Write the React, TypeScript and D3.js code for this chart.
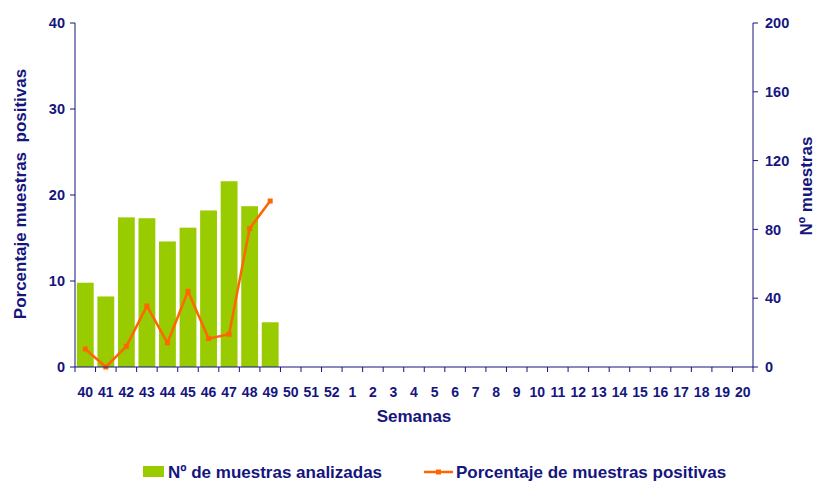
import React from "react";
import * as d3 from "d3";

const weeks = ["40", "41", "42", "43", "44", "45", "46", "47", "48", "49", "50", "51", "52",
  "1", "2", "3", "4", "5", "6", "7", "8", "9", "10", "11", "12", "13", "14", "15", "16", "17", "18", "19", "20"];
// Nº de muestras analizadas (right axis)
const samples = [49, 41, 87, 86.5, 73, 81, 91, 108, 93.5, 26];
// Porcentaje de muestras positivas (left axis)
const positive = [2.1, 0, 2.4, 7.1, 2.8, 8.8, 3.3, 3.8, 16.1, 19.3];
const leftTicks = [0, 10, 20, 30, 40];
const rightTicks = [0, 40, 80, 120, 160, 200];

const navy = "#15157e";
const green = "#99cc00";
const orange = "#ff6600";
const font = "'Liberation Sans', Arial, sans-serif";

export default function App() {
  const width = 817;
  const height = 482;
  const left = 75;
  const right = 753;
  const top = 23;
  const bottom = 367;

  const xb = d3.scaleBand().domain(weeks).range([left, right]);
  const yL = d3.scaleLinear().domain([0, 40]).range([bottom, top]);
  const yR = d3.scaleLinear().domain([0, 200]).range([bottom, top]);

  const line = d3.line<number>()
    .x((d, i) => xb(weeks[i])! + xb.bandwidth() / 2)
    .y((d) => yL(d));

  return (
    <svg width={width} height={height} style={{ position: "absolute", left: 0, top: 0 }} fontFamily={font} fontWeight="bold">
      {samples.map((v, i) => (
        <rect key={i} x={xb(weeks[i])! + xb.bandwidth() * 0.09} width={xb.bandwidth() * 0.82}
          y={yR(v)} height={bottom - yR(v)} fill={green} />
      ))}
      <path d={line(positive) || ""} fill="none" stroke={orange} strokeWidth={2.5} strokeLinejoin="round" />
      {positive.map((v, i) => (
        <rect key={i} x={xb(weeks[i])! + xb.bandwidth() / 2 - 2.5} y={yL(v) - 2.5} width={5} height={5} fill={orange} />
      ))}

      {/* left axis */}
      <line x1={left} x2={left} y1={top} y2={bottom} stroke={navy} strokeWidth={1} />
      {leftTicks.map((t) => (
        <g key={t}>
          <line x1={left - 5} x2={left} y1={yL(t)} y2={yL(t)} stroke={navy} />
          <text x={left - 10} y={yL(t)} dy="0.36em" textAnchor="end" fontSize={14.5} fill={navy}>{t}</text>
        </g>
      ))}
      <text transform={`translate(26,${194}) rotate(-90)`} textAnchor="middle" fontSize={17} fill={navy} style={{ whiteSpace: "pre" }}>
        {"Porcentaje muestras  positivas"}
      </text>

      {/* right axis */}
      <line x1={right} x2={right} y1={top} y2={bottom} stroke={navy} strokeWidth={1} />
      {rightTicks.map((t) => (
        <g key={t}>
          <line x1={right} x2={right + 5} y1={yR(t)} y2={yR(t)} stroke={navy} />
          <text x={right + 12} y={yR(t)} dy="0.36em" textAnchor="start" fontSize={14.5} fill={navy}>{t}</text>
        </g>
      ))}
      <text transform={`translate(812,${186}) rotate(-90)`} textAnchor="middle" fontSize={17} fill={navy}>
        Nº muestras
      </text>

      {/* x axis */}
      <line x1={left} x2={right} y1={bottom} y2={bottom} stroke={navy} strokeWidth={1} />
      {weeks.map((w) => (
        <line key={"t" + w} x1={xb(w)!} x2={xb(w)!} y1={bottom} y2={bottom + 5} stroke={navy} />
      ))}
      <line x1={right} x2={right} y1={bottom} y2={bottom + 5} stroke={navy} />
      {weeks.map((w) => (
        <text key={w} x={xb(w)! + xb.bandwidth() / 2} y={bottom + 30} textAnchor="middle" fontSize={14} fill={navy}>{w}</text>
      ))}
      <text x={414} y={422} textAnchor="middle" fontSize={17} fill={navy}>Semanas</text>

      {/* legend */}
      <rect x={143} y={466} width={21} height={11} fill={green} />
      <text x={168} y={478} fontSize={17} fill={navy}>Nº de muestras analizadas</text>
      <line x1={424} x2={453} y1={472} y2={472} stroke={orange} strokeWidth={2.5} />
      <rect x={436} y={469.5} width={5} height={5} fill={orange} />
      <text x={456} y={478} fontSize={17} fill={navy}>Porcentaje de muestras positivas</text>
    </svg>
  );
}
